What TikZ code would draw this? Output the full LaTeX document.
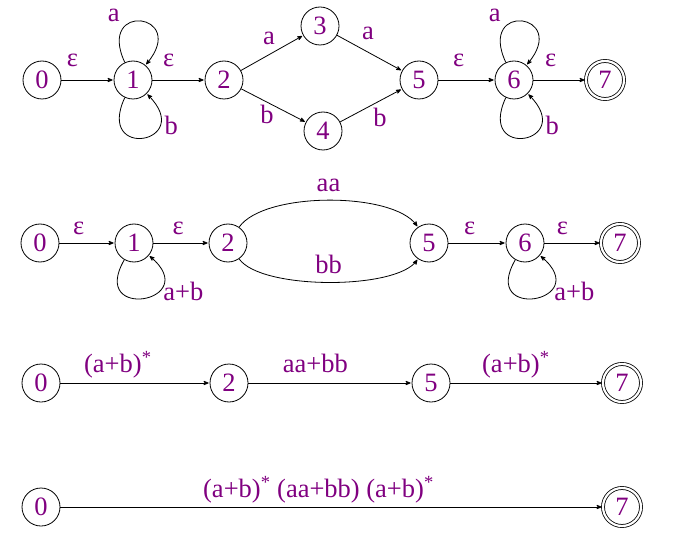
\documentclass[tikz,border=0pt]{standalone}
\usepackage{fontspec}
\setmainfont{Liberation Serif}
\usetikzlibrary{arrows,shapes,positioning}
\definecolor{lblpurple}{RGB}{128,0,128}
\tikzset{
    stnode/.style={draw,circle,minimum size=38pt,inner sep=0pt,text=lblpurple},
    accnode/.style={stnode,double,double distance=2.2pt},
    lbl/.style={text=lblpurple,text height=19pt,text depth=6pt,inner sep=2pt}
}
\begin{document}
\begin{tikzpicture}[x=1pt,y=1pt,->,>=stealth',shorten >=1pt,node distance=91pt,thick,
        font=\fontsize{26.5}{31}\selectfont]
        \useasboundingbox (0,0) rectangle (674,539);
        % row 1: the automaton with single letters
        \node[stnode] (A0) at (42,459) {0};
        \node[stnode] (A1) [right of=A0] {1};
        \node[stnode] (A2) [right of=A1] {2};
        \node[stnode] (A3) at (320,513) {3};
        \node[stnode] (A4) at (323,408) {4};
        \node[stnode] (A5) [right of=A2, xshift=104pt] {5};
        \node[stnode] (A6) [right of=A5, xshift=4pt] {6};
        \node[accnode] (A7) [right of=A6] {7};
        \path
        (A0) edge node[lbl,pos=0.21,above=5pt] {ε} (A1)
        (A1) edge node[lbl,pos=0.31,above=5pt] {ε} (A2)
        (A1) edge[out=115,in=50,distance=68pt] node[lbl,pos=0.25,above left] {a} (A1)
        (A1) edge[out=245,in=-45,distance=70pt] node[lbl,pos=0.7,right=4pt] {b} (A1)
        (A2) edge node[lbl,pos=0.45,above=2pt] {a} (A3)
        (A2) edge node[lbl,pos=0.4,below] {b} (A4)
        (A3) edge node[lbl,pos=0.35,above right] {a} (A5)
        (A4) edge node[lbl,pos=0.5,below right] {b} (A5)
        (A5) edge node[lbl,pos=0.36,above=5pt] {ε} (A6)
        (A6) edge[out=115,in=50,distance=68pt] node[lbl,pos=0.25,above left] {a} (A6)
        (A6) edge[out=245,in=-45,distance=70pt] node[lbl,pos=0.7,right=4pt] {b} (A6)
        (A6) edge node[lbl,pos=0.33,above=5pt] {ε} (A7)
        ;

        % row 2: loops merged, 3 and 4 removed
        \node[stnode] (B0) at (40,296) {0};
        \node[stnode] (B1) [right of=B0, xshift=3pt] {1};
        \node[stnode] (B2) [right of=B1, xshift=3pt] {2};
        \node[stnode] (B5) [right of=B2, xshift=110pt] {5};
        \node[stnode] (B6) [right of=B5, xshift=5pt] {6};
        \node[accnode] (B7) [right of=B6, xshift=4pt] {7};
        \path
        (B0) edge node[lbl,pos=0.35,above=0pt] {ε} (B1)
        (B1) edge node[lbl,pos=0.45,above=0pt] {ε} (B2)
        (B1) edge[out=240,in=-40,distance=72pt] node[lbl,pos=0.7,right,yshift=-5pt] {a+b} (B1)
        (B2) edge[out=55,in=125,distance=43.5pt] node[lbl,above] {aa} (B5)
        (B2) edge[out=-55,in=-125,distance=38pt] node[lbl,above] {bb} (B5)
        (B5) edge node[lbl,pos=0.37,above=0pt] {ε} (B6)
        (B6) edge[out=240,in=-40,distance=72pt] node[lbl,pos=0.7,right,yshift=-5pt] {a+b} (B6)
        (B6) edge node[lbl,pos=0.32,above=0pt] {ε} (B7)
        ;

        % row 3: 1 and 6 removed
        \node[stnode] (C0) at (41,156) {0};
        \node[stnode] (C2) [right of=C0, xshift=97pt] {2};
        \node[stnode] (C5) [right of=C2, xshift=111pt] {5};
        \node[accnode] (C7) [right of=C5, xshift=100pt] {7};
        \path
        (C0) edge node[lbl,pos=0.385,above=2pt] {(a+b)\textsuperscript{*}} (C2)
        (C2) edge node[lbl,pos=0.41,above=2pt] {aa+bb} (C5)
        (C5) edge node[lbl,pos=0.43,above=2pt] {(a+b)\textsuperscript{*}} (C7)
        ;

        % row 4: the regular expression
        \node[stnode] (D0) at (41,32) {0};
        \node[accnode] (D7) at (622,32) {7};
        \path
        (D0) edge node[lbl,pos=0.476,above=1pt] {(a+b)\textsuperscript{*} (aa+bb) (a+b)\textsuperscript{*}} (D7)
        ;
\end{tikzpicture}
\end{document}
